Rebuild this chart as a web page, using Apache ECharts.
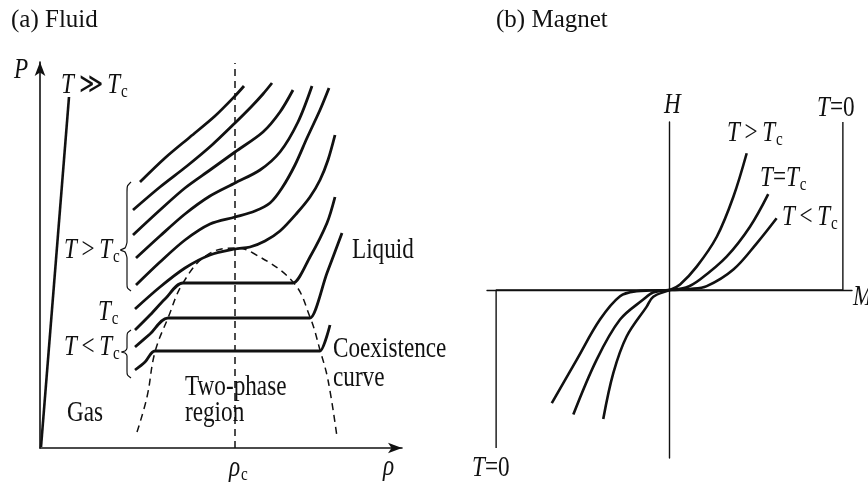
<!DOCTYPE html>
<html>
<head>
<meta charset="utf-8">
<script src="https://cdn.jsdelivr.net/npm/echarts@6/dist/echarts.min.js"></script>
<style>
html, body { margin: 0; padding: 0; background: #fff; }
#chart { width: 868px; height: 485px; }
</style>
</head>
<body>
<div id="chart"></div>
<script>
// ---- (a) Fluid: [rho, P], arbitrary units ----
var rhoC = 19.5;
var rhoCLine = [[rhoC, 0], [rhoC, 38.5]];
var isoVeryHot = [[0.1, 0.1], [2.9, 35.1]];
var iso1 = [[10, 26.6], [12.5, 29], [15, 31.1], [17.5, 33.2], [19.5, 35.2], [20.4, 36.2]];
var iso2 = [[9.3, 23.8], [12, 26.1], [14.7, 28.2], [17.2, 30.3], [19.5, 32.5], [21.2, 34.2], [22.3, 35.4], [23.2, 36.5]];
var iso3 = [[9.3, 21.3], [12, 23.8], [14.5, 26], [17, 27.8], [19.5, 29.6], [22.3, 31.6], [24, 33.6], [25.3, 35.8]];
var iso4 = [[9.6, 19], [12, 21.2], [14.5, 23.4], [17, 25.2], [19.5, 26.5], [22, 27.8], [24, 29.6], [25.8, 32.6], [27.2, 36.2]];
var iso5 = [[9.6, 16.3], [12, 18.6], [14.5, 20.8], [17, 22.4], [19.5, 23.1], [21.5, 23.7], [23, 24.5], [24.2, 26], [25.5, 28.3], [26.7, 31], [28, 33.8], [28.9, 36]];
var isoCrit = [[9.5, 13.9], [12, 16.1], [14.5, 18], [17, 19.3], [19.5, 19.9], [21, 20.1], [22.5, 20.7], [24, 21.7], [25.7, 23.5], [27, 25.1], [28, 26.8], [28.8, 28.8], [29.5, 31.3]];
var isoLow1 = [[9.5, 11.8], [11, 13.3], [12.5, 14.9], [14.3, 16.5], [25.1, 16.5], [25.3, 16.5], [27, 19.1], [28.7, 22.5], [29.5, 25.1]];
var isoLow2 = [[9.5, 10.1], [11, 11.4], [12.8, 13], [26.8, 13], [27, 13], [28.7, 17.5], [30.2, 21.5]];
var isoLow3 = [[9.5, 7.8], [10.5, 8.6], [11.5, 9.7], [27.8, 9.7], [28, 9.7], [29, 12.3]];
var dome = [[9.7, 1.6], [10.7, 5.1], [11.5, 9.6], [12.8, 13], [14.3, 16.5], [16.7, 19.3], [19.5, 20], [21.3, 19.5],
            [25.3, 16.6], [27, 13.1], [28, 9.8], [28.8, 6.8], [29.7, 1.1]];
var braceHot = [[9.1, 26.6], [8.75, 26.2], [8.7, 25.6], [8.7, 20.6], [8.5, 20.0], [8.05, 19.8], [8.5, 19.6], [8.7, 19.0], [8.7, 16.4], [8.75, 16.0], [9.1, 15.7]];
var braceCold = [[9.1, 11.8], [8.75, 11.5], [8.7, 11.0], [8.7, 10.0], [8.5, 9.7], [8.15, 9.6], [8.5, 9.5], [8.7, 9.2], [8.7, 7.7], [8.75, 7.3], [9.1, 7.0]];

// ---- (b) Magnet: [M, H] ----
var magHot = [[4.23, 8.14], [3.5, 5.55], [2.59, 3.17], [1.49, 1.39], [0.58, 0.33], [0, 0], [-0.89, -0.4], [-1.25, -0.99], [-2.35, -2.77], [-3.08, -4.95], [-3.63, -7.68]];
var magCrit = [[5.41, 5.71], [4.41, 3.77], [3.13, 1.99], [1.67, 0.63], [0.9, 0.15], [0, 0], [-0.9, -0.15], [-1.44, -0.57], [-2.71, -1.76], [-3.99, -4.14], [-5.27, -7.41]];
var magCold = [[5.87, 4.27], [4.78, 2.78], [3.5, 1.22], [2.04, 0.23], [1.12, 0.06], [0, 0], [-1.07, -0.03], [-1.8, -0.07], [-2.71, -0.37], [-3.81, -1.76], [-5.08, -4.14], [-6.45, -6.73]];
var magZero = [[-9.5, -9.4], [-9.5, 0], [9.5, 0], [9.5, 10]];

var ink = '#111';
var serif = '"Liberation Serif", "DejaVu Serif", serif';

function curve(data, grid, width, opts) {
    var s = {
        type: 'line', data: data, xAxisIndex: grid, yAxisIndex: grid,
        symbol: 'none', smooth: 0.3, silent: true,
        lineStyle: { color: ink, width: width }
    };
    for (var k in opts) s[k] = opts[k];
    return s;
}

var rich = {
    i: { fontFamily: serif, fontStyle: 'italic', fontSize: 29, verticalAlign: 'top', fill: ink },
    r: { fontFamily: serif, fontSize: 29, verticalAlign: 'top', fill: ink },
    s: { fontFamily: serif, fontSize: 19, padding: [12, 0, 0, 1], verticalAlign: 'bottom', fill: ink }
};

function label(x, y, text, sx) {
    return {
        type: 'text', x: x, y: y, scaleX: sx || 0.8, silent: true,
        style: { text: text, rich: rich, font: '29px ' + serif, fill: ink, verticalAlign: 'top' }
    };
}

var Tc = '{i|T}{s|c}';
var labels = [
    { type: 'text', x: 11, y: 8, silent: true, style: { text: '(a) Fluid', font: '25px ' + serif, fill: ink } },
    { type: 'text', x: 496, y: 8, silent: true, style: { text: '(b) Magnet', font: '25px ' + serif, fill: ink } },
    label(14, 56, '{i|P}'),
    label(61, 71, '{i|T}{r|\u2009\u226B\u2009}' + Tc),
    label(64, 236, '{i|T}{r|\u2009>\u2009}' + Tc),
    label(98, 298, Tc),
    label(64, 333, '{i|T}{r|\u2009<\u2009}' + Tc),
    label(352, 236, '{r|Liquid}'),
    label(333, 335, '{r|Coexistence}'),
    label(333, 364, '{r|curve}'),
    label(185, 373, '{r|Two-phase}'),
    label(185, 399, '{r|region}'),
    label(67, 399, '{r|Gas}'),
    label(229, 454, '{i|\u03C1}{s|c}'),
    label(383, 453, '{i|\u03C1}'),
    label(664, 91, '{i|H}'),
    label(817, 94, '{i|T}{r|=0}'),
    label(727, 119, '{i|T}{r|\u2009>\u2009}' + Tc),
    label(760, 164, '{i|T}{r|=}' + Tc),
    label(782, 203, '{i|T}{r|\u2009<\u2009}' + Tc),
    label(853, 283, '{i|M}'),
    label(472, 454, '{i|T}{r|=0}')
];

var axisBase = {
    type: 'value', splitLine: { show: false }, axisTick: { show: false }, axisLabel: { show: false }
};
function axis(grid, min, max, line) {
    var a = { gridIndex: grid, min: min, max: max };
    for (var k in axisBase) a[k] = axisBase[k];
    a.axisLine = line;
    return a;
}

var arrowLine = { show: true, symbol: ['none', 'arrow'], symbolSize: [8, 14], lineStyle: { color: ink, width: 1.6 } };
var thinLine = { show: true, onZero: true, lineStyle: { color: ink, width: 1.4 } };

var chart = echarts.init(document.getElementById('chart'));
chart.setOption({
    animation: false,
    backgroundColor: '#fff',
    grid: [
        { left: 40, top: 62, width: 362, height: 386 },
        { left: 487, top: 122, width: 365, height: 336 }
    ],
    xAxis: [axis(0, 0, 36.2, arrowLine), axis(1, -10, 10, thinLine)],
    yAxis: [axis(0, 0, 38.6, arrowLine), axis(1, -10, 10, thinLine)],
    graphic: labels,
    series: [
        curve(rhoCLine, 0, 1.5, { smooth: false, lineStyle: { color: ink, width: 1.5, type: [7, 5] } }),
        curve(dome, 0, 1.5, { smooth: 0.4, lineStyle: { color: ink, width: 1.5, type: [7, 5] } }),
        curve(isoVeryHot, 0, 2.6, { smooth: false }),
        curve(iso1, 0, 2.8),
        curve(iso2, 0, 2.8),
        curve(iso3, 0, 2.8),
        curve(iso4, 0, 2.8),
        curve(iso5, 0, 2.8),
        curve(isoCrit, 0, 2.8),
        curve(isoLow1, 0, 2.8),
        curve(isoLow2, 0, 2.8),
        curve(isoLow3, 0, 2.8),
        curve(braceHot, 0, 1.2, { smooth: 0.2 }),
        curve(braceCold, 0, 1.2, { smooth: 0.2 }),
        curve(magZero, 1, 1.4, { smooth: false }),
        curve(magHot, 1, 2.6, { smooth: 0.35 }),
        curve(magCrit, 1, 2.6, { smooth: 0.35 }),
        curve(magCold, 1, 2.6, { smooth: 0.35 })
    ]
});
</script>
</body>
</html>
